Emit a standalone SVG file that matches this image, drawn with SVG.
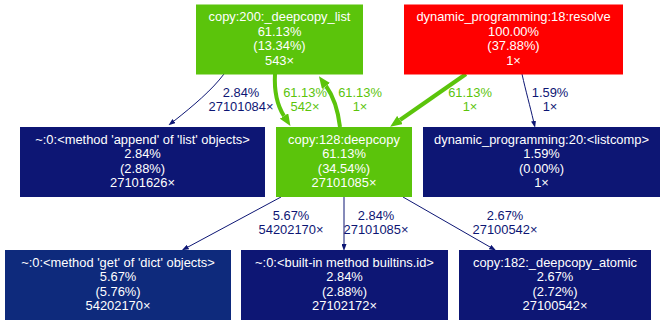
<svg xmlns="http://www.w3.org/2000/svg" width="669" height="325" viewBox="0 0 669 325">
  <style>
    text { font-family: "Liberation Sans", Arial, sans-serif; font-size: 12.9px; text-anchor: middle; }
    .nt { fill: #ffffff; }
    .hot { fill: #5bc40b; }
    .root { fill: #ff0000; }
    .cold { fill: #0d1674; }
    .warm { fill: #0e2a7c; }
    .e-thin { fill: none; stroke: #0d1674; stroke-width: 1; }
    .e-hot { fill: none; stroke: #5bc40b; stroke-width: 4; }
    .l-thin { fill: #0d1674; }
    .l-hot { fill: #5bc40b; }
  </style>
  <defs>
    <marker id="arrow-thin" viewBox="0 0 7 5" refX="0" refY="2.5" markerWidth="7" markerHeight="5" markerUnits="userSpaceOnUse" orient="auto" preserveAspectRatio="none">
      <path d="M0,0 L7,2.5 L0,5 z" fill="#0d1674"/>
    </marker>
    <marker id="arrow-hot" viewBox="0 0 12 10" refX="0" refY="5" markerWidth="12" markerHeight="10" markerUnits="userSpaceOnUse" orient="auto" preserveAspectRatio="none">
      <path d="M0,0 L12,5 L0,10 z" fill="#5bc40b"/>
    </marker>
  </defs>

  <rect width="669" height="325" fill="#ffffff"/>

  <!-- call edges -->
  <g id="edges">
    <path class="e-thin" d="M224,74 C212,90 193,106 174,121" marker-end="url(#arrow-thin)"/>
    <text class="l-thin" x="241" y="97">2.84%</text>
    <text class="l-thin" x="241" y="111">27101084×</text>

    <path class="e-hot" d="M275,74 C274,92 277,105 284,116" marker-end="url(#arrow-hot)"/>
    <text class="l-hot" x="305" y="97">61.13%</text>
    <text class="l-hot" x="305" y="111">542×</text>

    <path class="e-hot" d="M340,127 C338,110 334,97 326,86" marker-end="url(#arrow-hot)"/>
    <text class="l-hot" x="360" y="97">61.13%</text>
    <text class="l-hot" x="360" y="111">1×</text>

    <path class="e-hot" d="M466,74 L400,120" marker-end="url(#arrow-hot)"/>
    <text class="l-hot" x="470" y="97">61.13%</text>
    <text class="l-hot" x="470" y="111">1×</text>

    <path class="e-thin" d="M522,74 C526,92 530,106 533.5,121" marker-end="url(#arrow-thin)"/>
    <text class="l-thin" x="550" y="97">1.59%</text>
    <text class="l-thin" x="550" y="111">1×</text>

    <path class="e-thin" d="M281,197 L188,247" marker-end="url(#arrow-thin)"/>
    <text class="l-thin" x="291" y="220">5.67%</text>
    <text class="l-thin" x="291" y="234">54202170×</text>

    <path class="e-thin" d="M344,197 L344,244" marker-end="url(#arrow-thin)"/>
    <text class="l-thin" x="376" y="220">2.84%</text>
    <text class="l-thin" x="376" y="234">27101085×</text>

    <path class="e-thin" d="M403,197 L490,247" marker-end="url(#arrow-thin)"/>
    <text class="l-thin" x="505" y="220">2.67%</text>
    <text class="l-thin" x="505" y="234">27100542×</text>
  </g>

  <!-- function nodes -->
  <g id="node-deepcopy-list">
    <rect class="hot" x="196" y="4.5" width="167" height="70"/>
    <text class="nt" x="279.5" y="21">copy:200:_deepcopy_list</text>
    <text class="nt" x="279.5" y="35.5">61.13%</text>
    <text class="nt" x="279.5" y="50">(13.34%)</text>
    <text class="nt" x="279.5" y="64.5">543×</text>
  </g>

  <g id="node-resolve">
    <rect class="root" x="404" y="4.5" width="219" height="70"/>
    <text class="nt" x="513.5" y="21">dynamic_programming:18:resolve</text>
    <text class="nt" x="513.5" y="35.5">100.00%</text>
    <text class="nt" x="513.5" y="50">(37.88%)</text>
    <text class="nt" x="513.5" y="64.5">1×</text>
  </g>

  <g id="node-append">
    <rect class="cold" x="20" y="127" width="245" height="70"/>
    <text class="nt" x="142.5" y="143.5">~:0:&lt;method 'append' of 'list' objects&gt;</text>
    <text class="nt" x="142.5" y="158">2.84%</text>
    <text class="nt" x="142.5" y="172.5">(2.88%)</text>
    <text class="nt" x="142.5" y="187">27101626×</text>
  </g>

  <g id="node-deepcopy">
    <rect class="hot" x="276" y="127" width="136" height="70"/>
    <text class="nt" x="344" y="143.5">copy:128:deepcopy</text>
    <text class="nt" x="344" y="158">61.13%</text>
    <text class="nt" x="344" y="172.5">(34.54%)</text>
    <text class="nt" x="344" y="187">27101085×</text>
  </g>

  <g id="node-listcomp">
    <rect class="cold" x="423" y="127" width="237" height="70"/>
    <text class="nt" x="541.5" y="143.5">dynamic_programming:20:&lt;listcomp&gt;</text>
    <text class="nt" x="541.5" y="158">1.59%</text>
    <text class="nt" x="541.5" y="172.5">(0.00%)</text>
    <text class="nt" x="541.5" y="187">1×</text>
  </g>

  <g id="node-dict-get">
    <rect class="warm" x="5" y="250" width="226" height="70"/>
    <text class="nt" x="118" y="266.5">~:0:&lt;method 'get' of 'dict' objects&gt;</text>
    <text class="nt" x="118" y="281">5.67%</text>
    <text class="nt" x="118" y="295.5">(5.76%)</text>
    <text class="nt" x="118" y="310">54202170×</text>
  </g>

  <g id="node-builtins-id">
    <rect class="cold" x="241" y="250" width="207" height="70"/>
    <text class="nt" x="344.5" y="266.5">~:0:&lt;built-in method builtins.id&gt;</text>
    <text class="nt" x="344.5" y="281">2.84%</text>
    <text class="nt" x="344.5" y="295.5">(2.88%)</text>
    <text class="nt" x="344.5" y="310">27102172×</text>
  </g>

  <g id="node-deepcopy-atomic">
    <rect class="cold" x="459" y="250" width="192" height="70"/>
    <text class="nt" x="555" y="266.5">copy:182:_deepcopy_atomic</text>
    <text class="nt" x="555" y="281">2.67%</text>
    <text class="nt" x="555" y="295.5">(2.72%)</text>
    <text class="nt" x="555" y="310">27100542×</text>
  </g>
</svg>
